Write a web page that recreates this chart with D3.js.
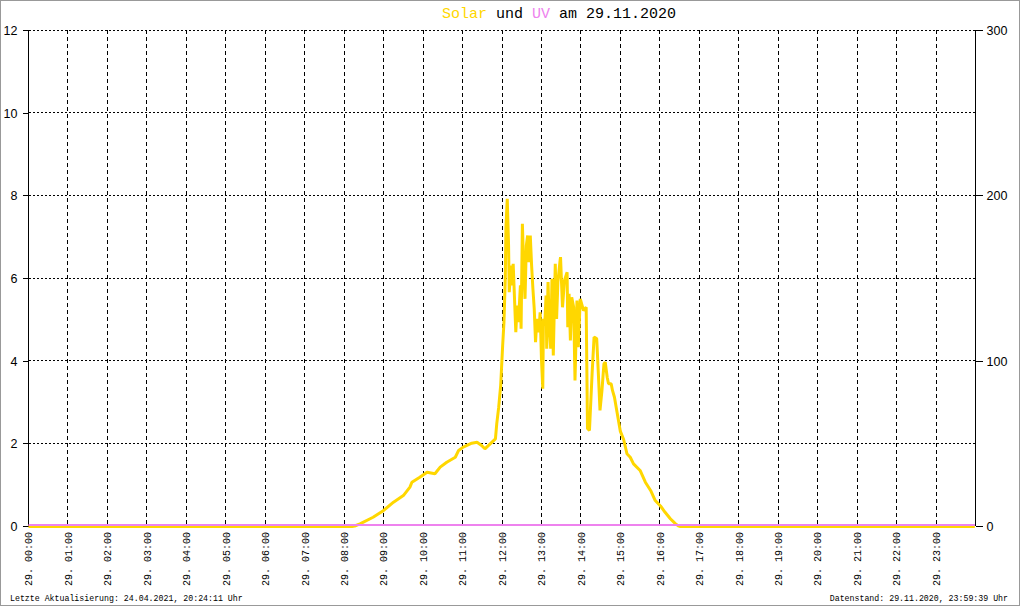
<!DOCTYPE html>
<html>
<head>
<meta charset="utf-8">
<script src="https://cdn.jsdelivr.net/npm/d3@7"></script>
<style>
  html, body { margin: 0; padding: 0; background: #fff; }
  svg { display: block; }
</style>
</head>
<body>
<svg id="chart" width="1020" height="606"></svg>
<script>
// ---- data ----
const hourLabels = ["29. 00:00","29. 01:00","29. 02:00","29. 03:00","29. 04:00","29. 05:00",
  "29. 06:00","29. 07:00","29. 08:00","29. 09:00","29. 10:00","29. 11:00","29. 12:00",
  "29. 13:00","29. 14:00","29. 15:00","29. 16:00","29. 17:00","29. 18:00","29. 19:00",
  "29. 20:00","29. 21:00","29. 22:00","29. 23:00"];
const uvTicks = [0, 2, 4, 6, 8, 10, 12];
const solarTicks = [0, 100, 200, 300];

const solarTimes = ["00:00","08:12","08:16","08:24","08:44","09:00","09:15","09:30","09:40","09:43",
  "09:55","10:06","10:18","10:26","10:36","10:49","10:54","11:01","11:14","11:22","11:29","11:34",
  "11:42","11:50","11:52","11:55","11:58","12:01","12:03","12:05","12:06","12:08","12:10","12:11",
  "12:14","12:15","12:17","12:20","12:21","12:23","12:25","12:28","12:29","12:31","12:33","12:35",
  "12:37","12:39","12:41","12:43","12:45","12:47","12:49","12:51","12:53","12:56","12:58","13:00",
  "13:02","13:03","13:05","13:07","13:08","13:10","13:12","13:14","13:16","13:18","13:21","13:23",
  "13:25","13:28","13:29","13:32","13:35","13:39","13:40","13:42","13:44","13:46","13:49","13:51",
  "13:54","13:56","13:59","14:04","14:08","14:10","14:13","14:17","14:20","14:24","14:27","14:29",
  "14:32","14:35","14:37","14:40","14:42","14:46","14:48","14:51","14:55","15:00","15:05","15:10",
  "15:15","15:20","15:30","15:38","15:46","15:53","16:01","16:08","16:16","16:24","16:29","16:31",
  "23:59"];
const solarValues = [0,0,0.3,1.6,5.6,9.7,14.7,18.7,23.8,26.8,
  29.8,32.8,31.9,35.9,38.9,41.9,46.0,48.0,50.4,51.0,49.0,47.0,
  50.0,53.0,62.1,72.2,85.3,109.5,123.6,150.0,181.0,198.2,169.9,141.7,
  157.9,145.8,158.9,127.6,117.5,133.7,123.6,145.8,119.6,183.1,155.9,137.7,
  169.9,176.0,159.8,176.0,157.9,143.8,131.7,111.5,125.6,117.5,129.6,101.4,
  83.3,125.6,121.6,139.7,107.5,147.8,121.6,107.5,149.8,103.4,158.9,125.6,
  147.8,159.8,162.9,132.6,148.8,153.8,120.5,140.7,112.5,138.7,132.6,88.3,
  136.7,108.4,137.7,130.6,132.6,59.3,58.1,92.4,114.5,113.7,88.3,70.2,
  82.3,98.4,99.4,90.1,86.3,86.3,82.3,78.2,68.9,57.5,52.6,44.0,
  41.9,37.9,33.9,26.8,21.8,15.7,12.4,8.6,4.7,1.6,0.2,0,
  0];

const uvTimes = ["00:00","06:00","12:00","18:00","23:59"];
const uvValues = [0, 0, 0, 0, 0];

const titleParts = [["Solar", "#FFD700"], [" und ", "#000"], ["UV", "#EE82EE"], [" am 29.11.2020", "#000"]];
const footerLeft = "Letzte Aktualisierung: 24.04.2021, 20:24:11 Uhr";
const footerRight = "Datenstand: 29.11.2020, 23:59:39 Uhr";

// ---- helpers ----
const toMin = s => { const [h, m] = s.split(":").map(Number); return h * 60 + m; };
const snap = v => Math.round(v - 0.5) + 0.5;

const svg = d3.select("#chart");
const W = 1020, H = 606;
const pLeft = 28.5, pRight = 975.5, pTop = 30, pBottom = 526;

const x = d3.scaleLinear().domain([0, 1440]).range([pLeft, pRight]);
const yUV = d3.scaleLinear().domain([0, 12]).range([pBottom, pTop]);
const ySol = d3.scaleLinear().domain([0, 300]).range([pBottom, pTop]);

// outer border
svg.append("rect").attr("x", 0.5).attr("y", 0.5).attr("width", W - 1).attr("height", H - 1)
  .attr("fill", "#fff").attr("stroke", "#999").attr("stroke-width", 1);

// horizontal grid (dotted)
svg.append("g").selectAll("line").data(uvTicks.filter(d => d > 0)).join("line")
  .attr("x1", pLeft).attr("x2", pRight)
  .attr("y1", d => snap(yUV(d))).attr("y2", d => snap(yUV(d)))
  .attr("stroke", "#000").attr("stroke-width", 1).attr("stroke-dasharray", "2,2")
  .attr("shape-rendering", "crispEdges");

// vertical grid (dashed)
const hours = d3.range(1, 24);
svg.append("g").selectAll("line").data(hours).join("line")
  .attr("x1", d => snap(x(d * 60))).attr("x2", d => snap(x(d * 60)))
  .attr("y1", pTop).attr("y2", pBottom)
  .attr("stroke", "#000").attr("stroke-width", 1).attr("stroke-dasharray", "4,3")
  .attr("shape-rendering", "crispEdges");

// left axis
const leftAxis = d3.axisLeft(yUV).tickValues(uvTicks).tickSize(6).tickPadding(5).tickFormat(d3.format("d"));
const gL = svg.append("g").attr("transform", `translate(${snap(pLeft)},0)`).call(leftAxis);
gL.select(".domain").attr("stroke", "#000").attr("shape-rendering", "crispEdges").attr("d", `M0,${pTop}V${pBottom}`);
gL.selectAll(".tick line").attr("stroke", "#000").attr("shape-rendering", "crispEdges");
gL.selectAll(".tick text").attr("font-family", "'Liberation Sans', Arial, sans-serif")
  .attr("font-size", "12.5px").attr("fill", "#000").attr("dy", "0.35em");

// right axis
const rightAxis = d3.axisRight(ySol).tickValues(solarTicks).tickSize(7).tickPadding(4).tickFormat(d3.format("d"));
const gR = svg.append("g").attr("transform", `translate(${snap(pRight)},0)`).call(rightAxis);
gR.select(".domain").attr("stroke", "#000").attr("shape-rendering", "crispEdges").attr("d", `M0,${pTop}V${pBottom}`);
gR.selectAll(".tick line").attr("stroke", "#000").attr("shape-rendering", "crispEdges");
gR.selectAll(".tick text").attr("font-family", "'Liberation Sans', Arial, sans-serif")
  .attr("font-size", "12.5px").attr("fill", "#000").attr("dy", "0.35em");

// bottom axis: rotated labels only
const bottomAxis = d3.axisBottom(x).tickValues(d3.range(0, 24).map(h => h * 60))
  .tickSize(0).tickFormat((d, i) => hourLabels[i]);
const gB = svg.append("g").attr("transform", `translate(0,${pBottom})`).call(bottomAxis);
gB.select(".domain").remove();
gB.selectAll(".tick text")
  .attr("font-family", "'Liberation Mono', 'DejaVu Sans Mono', monospace")
  .attr("font-size", "10px").attr("fill", "#000")
  .attr("text-anchor", "end")
  .attr("transform", "rotate(-90)")
  .attr("x", -6).attr("y", 0).attr("dy", "0.33em");

// solar line (right axis)
const solarData = solarTimes.map((t, i) => ({ t: toMin(t), v: solarValues[i] }));
svg.append("path").datum(solarData)
  .attr("fill", "none").attr("stroke", "#FFD700").attr("stroke-width", 3)
  .attr("stroke-linejoin", "bevel")
  .attr("d", d3.line().x(d => x(d.t)).y(d => ySol(d.v) + 0.5));

// uv line (left axis)
const uvData = uvTimes.map((t, i) => ({ t: toMin(t), v: uvValues[i] }));
svg.append("path").datum(uvData)
  .attr("fill", "none").attr("stroke", "#EE82EE").attr("stroke-width", 2)
  .attr("d", d3.line().x(d => x(d.t)).y(d => yUV(d.v) - 1));

// title
const title = svg.append("text").attr("x", 442).attr("y", 18)
  .attr("font-family", "'Liberation Mono', 'DejaVu Sans Mono', monospace")
  .attr("font-size", "15px").attr("xml:space", "preserve");
title.selectAll("tspan").data(titleParts).join("tspan")
  .attr("fill", d => d[1]).text(d => d[0]);

// footers
svg.append("text").attr("x", 10).attr("y", 601)
  .attr("font-family", "'Liberation Mono', 'DejaVu Sans Mono', monospace")
  .attr("font-size", "8.25px").attr("fill", "#000").text(footerLeft);
svg.append("text").attr("x", 1008).attr("y", 601).attr("text-anchor", "end")
  .attr("font-family", "'Liberation Mono', 'DejaVu Sans Mono', monospace")
  .attr("font-size", "8.25px").attr("fill", "#000").text(footerRight);
</script>
</body>
</html>
